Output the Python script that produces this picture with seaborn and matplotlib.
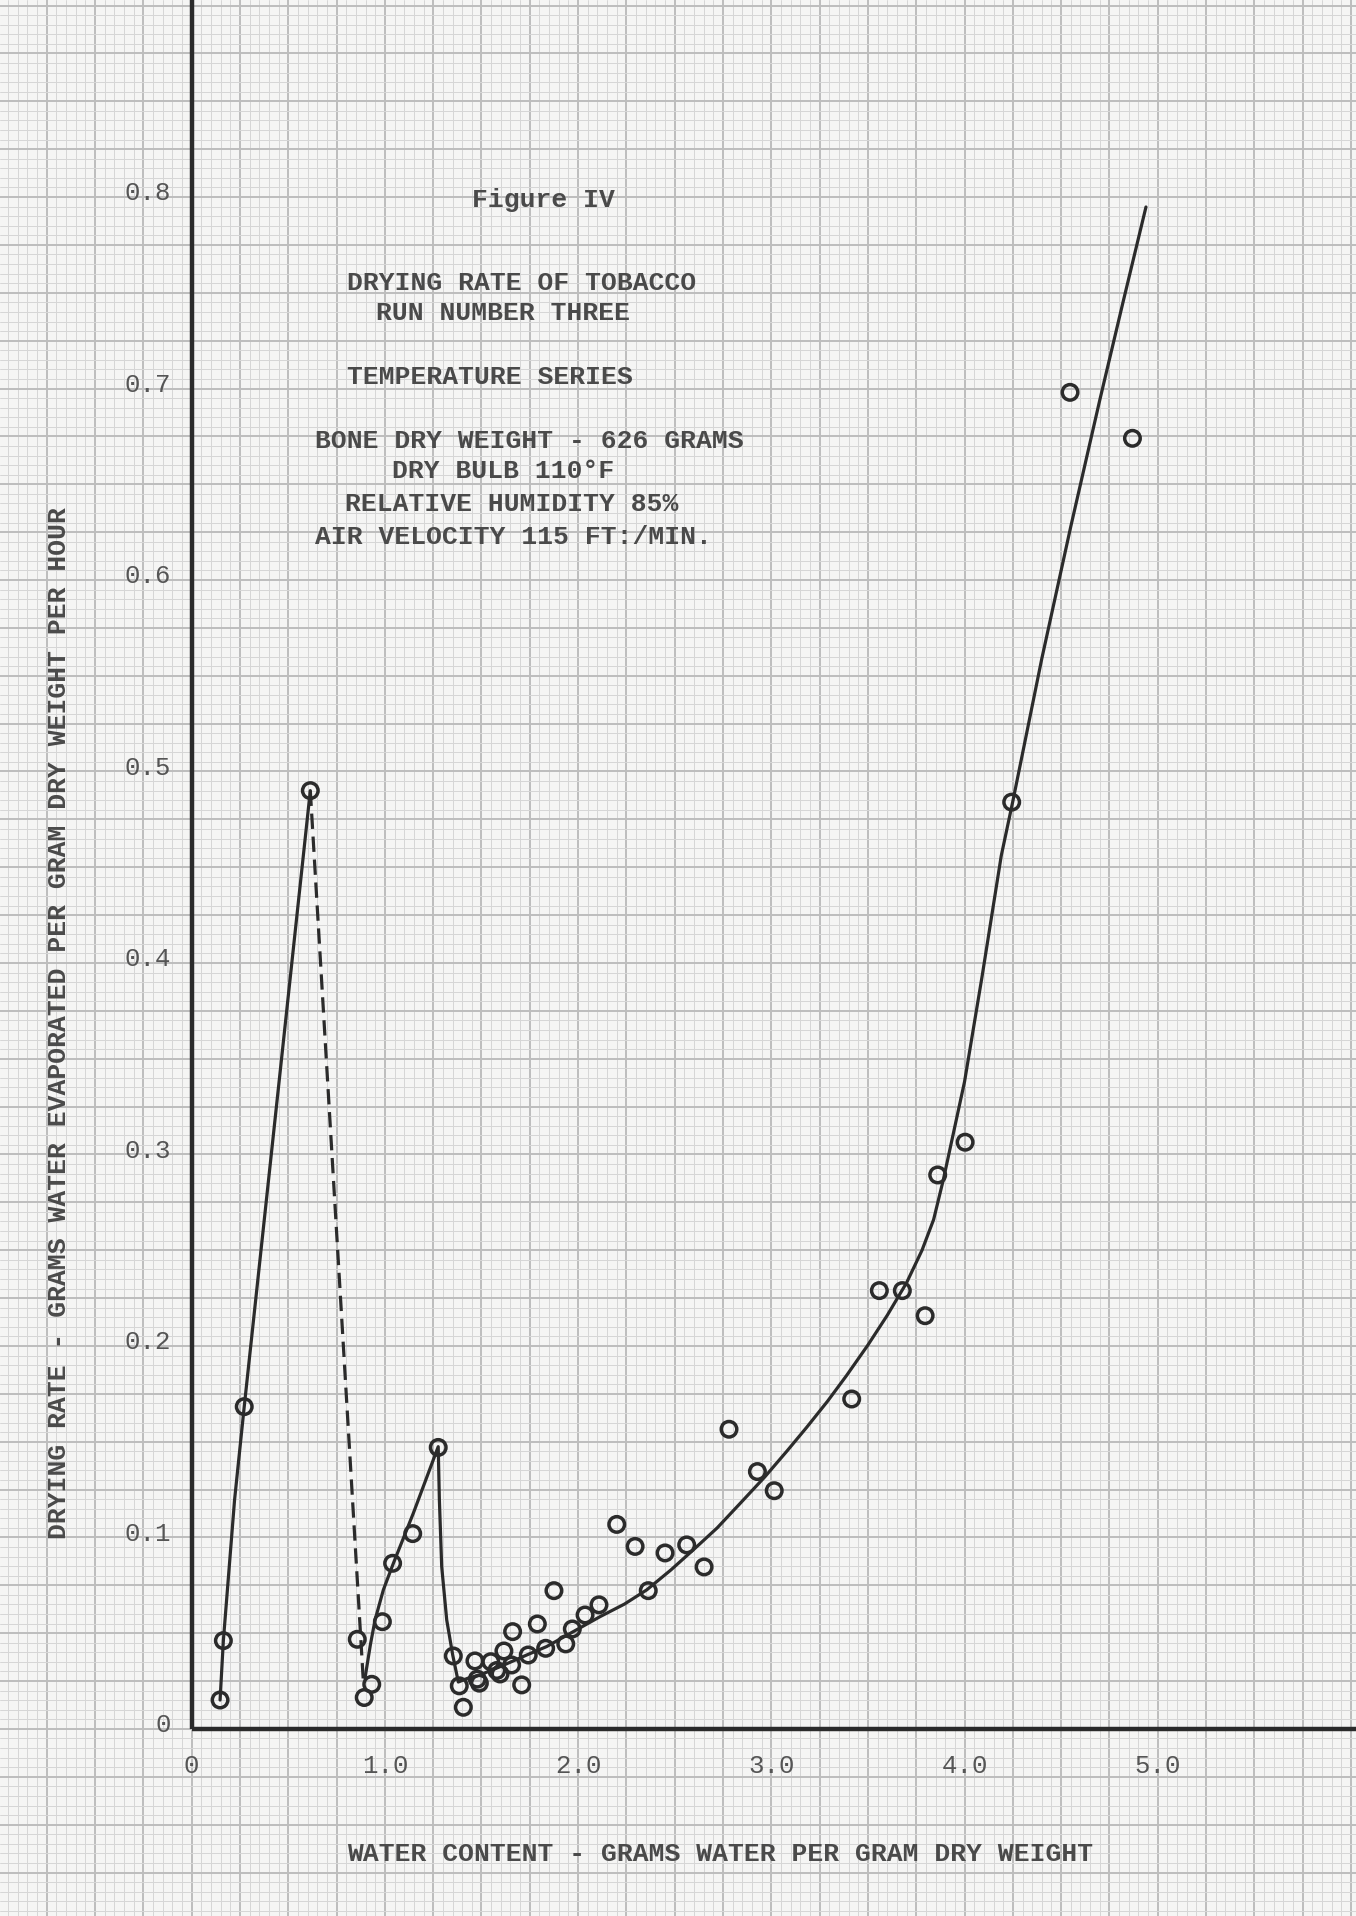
import numpy as np
import matplotlib
matplotlib.use("Agg")
import matplotlib.pyplot as plt
import seaborn as sns

sns.set_theme(style="white")
plt.rcParams["font.family"] = ["Liberation Mono", "DejaVu Sans Mono"]

PAPER = "#f5f5f4"
INK = "#2b2b2b"
TYPE = "#4a4a4a"

# ---- data ----
pts_x = [0.147, 0.164, 0.272, 0.614, 0.857, 0.893, 0.932, 0.987, 1.040, 1.144,
         1.276, 1.354, 1.385, 1.406, 1.466, 1.478, 1.489, 1.548, 1.579, 1.596,
         1.616, 1.656, 1.661, 1.708, 1.742, 1.789, 1.832, 1.875, 1.936, 1.970,
         2.036, 2.108, 2.200, 2.295, 2.363, 2.450, 2.562, 2.652, 2.781, 2.928,
         3.015, 3.416, 3.559, 3.678, 3.796, 3.861, 4.003, 4.244, 4.546, 4.869]
pts_y = [0.0151, 0.0461, 0.1683, 0.490, 0.0468, 0.0164, 0.0233, 0.056, 0.0865, 0.102,
         0.147, 0.0381, 0.0225, 0.0113, 0.0355, 0.026, 0.0239, 0.0351, 0.0305, 0.0287,
         0.0407, 0.0334, 0.0508, 0.023, 0.0386, 0.0548, 0.0421, 0.0722, 0.0444, 0.0522,
         0.0595, 0.0648, 0.1068, 0.0953, 0.0722, 0.0919, 0.0961, 0.0846, 0.1565, 0.1344,
         0.1244, 0.1723, 0.2289, 0.2289, 0.2158, 0.2893, 0.3064, 0.484, 0.698, 0.674]

# first rise (solid)
rise_x = [0.147, 0.164, 0.222, 0.272, 0.614]
rise_y = [0.0151, 0.0461, 0.1196, 0.1683, 0.490]

# drop after the first peak (dashed)
drop_x = [0.614, 0.888]
drop_y = [0.490, 0.0256]

# second hump and main drying curve (solid)
curve_x = [0.897, 0.925, 0.949, 0.992, 1.044, 1.147, 1.276, 1.282, 1.294, 1.320,
           1.351, 1.380, 1.430, 1.492, 1.596, 1.734, 1.837, 1.975, 2.113, 2.240,
           2.355, 2.480, 2.596, 2.720, 2.850, 2.967, 3.080, 3.183, 3.290, 3.389,
           3.500, 3.600, 3.700, 3.780, 3.840, 3.890, 3.940, 4.000, 4.090, 4.190,
           4.250, 4.400, 4.550, 4.700, 4.820, 4.939]
curve_y = [0.0265, 0.0440, 0.0569, 0.0726, 0.0865, 0.1126, 0.1474, 0.1196, 0.0848, 0.0569,
           0.0386, 0.0245, 0.0265, 0.0282, 0.0325, 0.0386, 0.0430, 0.0508, 0.0586, 0.0652,
           0.0726, 0.0830, 0.0935, 0.1050, 0.1190, 0.1317, 0.1450, 0.1575, 0.1710, 0.1845,
           0.2005, 0.2160, 0.2330, 0.2500, 0.2660, 0.2867, 0.3100, 0.3380, 0.3925, 0.4560,
           0.4845, 0.5590, 0.6280, 0.6940, 0.7450, 0.7948]

xtick_vals = [0, 1.0, 2.0, 3.0, 4.0, 5.0]
xtick_text = ["0", "1.0", "2.0", "3.0", "4.0", "5.0"]
ytick_vals = [0, 0.1, 0.2, 0.3, 0.4, 0.5, 0.6, 0.7, 0.8]
ytick_text = ["0", "0.1", "0.2", "0.3", "0.4", "0.5", "0.6", "0.7", "0.8"]

note_lines = ["DRYING RATE OF TOBACCO", "RUN NUMBER THREE", "TEMPERATURE SERIES",
              "BONE DRY WEIGHT - 626 GRAMS", "DRY BULB 110°F",
              "RELATIVE HUMIDITY 85%", "AIR VELOCITY 115 FT:/MIN."]

# ---- figure: the whole sheet is the axes ----
W, H = 1356, 1916
fig = plt.figure(figsize=(W / 100, H / 100), dpi=100, facecolor=PAPER)
ax = fig.add_axes([0, 0, 1, 1])
ax.set_xlim(-0.992, 6.026)
ax.set_ylim(-0.0977, 0.9029)
ax.axis("off")

# graph paper
gx = np.arange(-1.0, 6.1, 0.05)
for v in gx:
    major = int(round(v / 0.05)) % 5 == 0
    ax.axvline(v, color="#bdbdbd" if major else "#d6d6d6",
               lw=1.4 if major else 0.7, zorder=0)
gy = np.arange(-0.1, 0.91, 0.005)
for v in gy:
    major = int(round(v / 0.005)) % 5 == 0
    ax.axhline(v, color="#bdbdbd" if major else "#d6d6d6",
               lw=1.4 if major else 0.7, zorder=0)

# hand-drawn axes
ax.plot([0, 0], [0, 0.906], color=INK, lw=3.2, solid_capstyle="butt", zorder=2)
ax.plot([0, 6.03], [0, 0], color=INK, lw=3.2, solid_capstyle="butt", zorder=2)

# curves
sns.lineplot(x=rise_x, y=rise_y, sort=False, estimator=None, ax=ax,
             color=INK, lw=2.3, zorder=3)
sns.lineplot(x=drop_x, y=drop_y, sort=False, estimator=None, ax=ax,
             color=INK, lw=2.3, linestyle=(0, (4.8, 2.4)), zorder=3)
sns.lineplot(x=curve_x, y=curve_y, sort=False, estimator=None, ax=ax,
             color=INK, lw=2.3, zorder=3)

# data points
sns.scatterplot(x=pts_x, y=pts_y, ax=ax, marker="o", s=125,
                facecolor="none", edgecolor=INK, linewidth=2.5, zorder=4)

# tick labels
for v, t in zip(xtick_vals, xtick_text):
    ax.text(v, -0.0196, t, ha="center", va="center", fontsize=18.5, color="#555555")
for v, t in zip(ytick_vals, ytick_text):
    ax.text(-0.107, v + 0.002, t, ha="right", va="center", fontsize=18.5, color="#555555")

# axis titles
fig.text(720 / W, 1 - 1854 / H, "WATER CONTENT - GRAMS WATER PER GRAM DRY WEIGHT",
         ha="center", va="center", fontsize=19, color=TYPE, fontweight="bold")
fig.text(58.6 / W, 1 - 1023 / H,
         "DRYING RATE - GRAMS WATER EVAPORATED PER GRAM DRY WEIGHT PER HOUR",
         ha="center", va="center", rotation=90, fontsize=19, color=TYPE,
         fontweight="bold")

# typed notes
fig.text(543 / W, 1 - 200 / H, "Figure IV", ha="center", va="center",
         fontsize=19, color=TYPE, fontweight="bold")
note_left = [346.7, 376, 346.7, 315, 391.7, 345, 315]
note_y = [283, 313.5, 377, 441.5, 471.5, 504, 536.5]
for t, lx, ly in zip(note_lines, note_left, note_y):
    fig.text(lx / W, 1 - ly / H, t, ha="left", va="center", fontsize=19,
             color=TYPE, fontweight="bold")

fig.savefig("out.png", dpi=100, facecolor=PAPER)
